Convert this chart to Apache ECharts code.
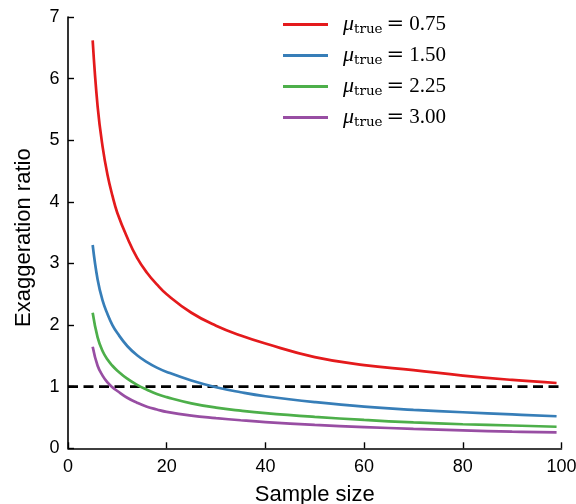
<!DOCTYPE html>
<html>
<head>
<meta charset="utf-8">
<script src="https://cdn.jsdelivr.net/npm/echarts@6/dist/echarts.min.js"></script>
<style>
  html, body { margin: 0; padding: 0; background: #fff; }
  #chart { width: 576px; height: 504px; }
</style>
</head>
<body>
<div id="chart"></div>
<script>
// Sample sizes at which each curve is evaluated
const sampleSizes = [5, 6, 7, 8, 9, 10, 12, 14, 16, 18, 20, 25, 30, 35, 40, 50, 60, 70, 80, 90, 99];

// Exaggeration ratio for each true effect size
const ratioMu075 = [6.62, 5.55, 4.90, 4.44, 4.10, 3.82, 3.42, 3.09, 2.85, 2.66, 2.50, 2.20, 1.99, 1.83, 1.70, 1.48, 1.35, 1.27, 1.18, 1.11, 1.06];
const ratioMu150 = [3.30, 2.74, 2.40, 2.18, 2.00, 1.87, 1.66, 1.51, 1.40, 1.31, 1.24, 1.10, 0.99, 0.91, 0.845, 0.75, 0.675, 0.625, 0.585, 0.55, 0.52];
const ratioMu225 = [2.20, 1.80, 1.58, 1.44, 1.34, 1.26, 1.13, 1.03, 0.95, 0.88, 0.83, 0.73, 0.66, 0.61, 0.57, 0.51, 0.46, 0.42, 0.39, 0.37, 0.35];
const ratioMu300 = [1.65, 1.34, 1.18, 1.07, 0.99, 0.93, 0.82, 0.74, 0.675, 0.63, 0.59, 0.53, 0.49, 0.455, 0.425, 0.38, 0.345, 0.315, 0.29, 0.27, 0.26];

const muLabels = ['0.75', '1.50', '2.25', '3.00'];
const curveValues = [ratioMu075, ratioMu150, ratioMu225, ratioMu300];
const curveColors = ['#e41a1c', '#377eb8', '#4daf4a', '#984ea3'];

// Reference level: no exaggeration
const referenceLevel = 1;
const xTicks = [0, 20, 40, 60, 80, 100];
const yTicks = [0, 1, 2, 3, 4, 5, 6, 7];

const chart = echarts.init(document.getElementById('chart'), null, { renderer: 'canvas' });

const curveSeries = curveValues.map((vals, i) => ({
  name: muLabels[i],
  type: 'line',
  data: sampleSizes.map((n, j) => [n, vals[j]]),
  smooth: 0.45,
  showSymbol: false,
  symbol: 'none',
  lineStyle: { color: curveColors[i], width: 2.7 },
  itemStyle: { color: curveColors[i] },
  z: 3
}));

const referenceSeries = {
  name: 'reference',
  type: 'line',
  data: [[0, referenceLevel], [100, referenceLevel]],
  showSymbol: false,
  symbol: 'none',
  lineStyle: { color: '#000', width: 2.7, type: [10, 5.5] },
  z: 2
};

const sansFamily = 'Liberation Sans, Arial, sans-serif';
const axisFont = { fontFamily: sansFamily, fontSize: 18, color: '#000' };
const serif = 'Liberation Serif, serif';

chart.setOption({
  animation: false,
  backgroundColor: '#fff',
  grid: { left: 68, right: 14.5, top: 17, bottom: 55.7, containLabel: false, outerBoundsMode: 'none' },
  xAxis: {
    type: 'value',
    min: 0, max: 100, interval: 20,
    name: 'Sample size',
    nameLocation: 'middle',
    nameGap: 36,
    nameTextStyle: { fontFamily: sansFamily, fontSize: 22, color: '#000' },
    axisLine: { show: true, onZero: false, lineStyle: { color: '#000', width: 1.6 } },
    axisTick: { show: true, inside: true, length: 6, lineStyle: { color: '#000', width: 1.4 } },
    axisLabel: Object.assign({ margin: 10, formatter: v => xTicks.includes(v) ? String(v) : '' }, axisFont),
    splitLine: { show: false }
  },
  yAxis: {
    type: 'value',
    min: 0, max: 7, interval: 1,
    name: 'Exaggeration ratio',
    nameLocation: 'middle',
    nameGap: 33,
    nameTextStyle: { fontFamily: sansFamily, fontSize: 22, color: '#000', padding: [0, 10, 0, 0] },
    axisLine: { show: true, onZero: false, lineStyle: { color: '#000', width: 1.6 } },
    axisTick: { show: true, inside: true, length: 6, lineStyle: { color: '#000', width: 1.4 } },
    axisLabel: Object.assign({ margin: 8.5, formatter: v => yTicks.includes(v) ? String(v) : '' }, axisFont),
    splitLine: { show: false }
  },
  legend: {
    orient: 'vertical',
    left: 278,
    top: 8,
    data: muLabels,
    icon: 'rect',
    itemWidth: 45,
    itemHeight: 3,
    itemGap: 8,
    formatter: name => `{mu|μ}{sub|true}{eq|=}{num|${name}}`,
    textStyle: {
      rich: {
        mu: { fontFamily: serif, fontStyle: 'italic', fontSize: 22, color: '#000', padding: [0, 0, 0, 10], lineHeight: 26 },
        sub: { fontFamily: 'DejaVu Serif', fontSize: 13.5, color: '#000', padding: [9, 0, 0, 0], lineHeight: 26 },
        eq: { fontFamily: 'DejaVu Serif', fontSize: 21, color: '#000', padding: [0, 5, 0, 4], lineHeight: 26 },
        num: { fontFamily: serif, fontSize: 21, color: '#000', lineHeight: 26 }
      }
    }
  },
  series: curveSeries.concat([referenceSeries])
});
</script>
</body>
</html>
